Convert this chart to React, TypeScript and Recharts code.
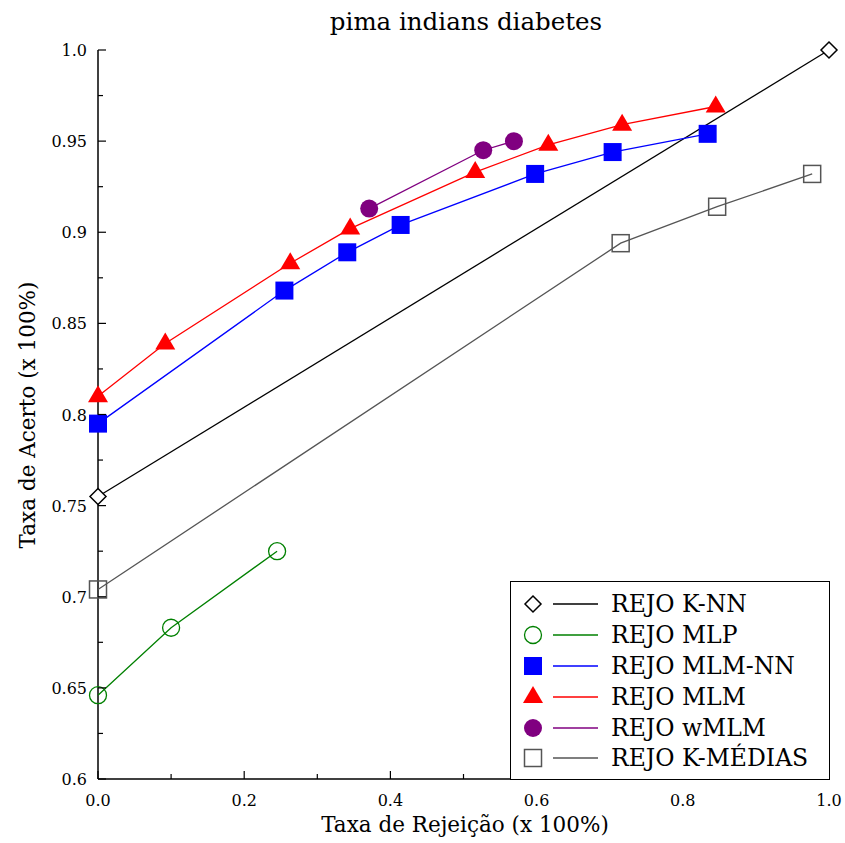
import { ScatterChart, Scatter, XAxis, YAxis } from "recharts";

const knnX = [0, 1];
const knnY = [0.755, 1.0];
const mlpX = [0, 0.1, 0.245];
const mlpY = [0.646, 0.683, 0.725];
const mlmnnX = [0, 0.255, 0.341, 0.414, 0.598, 0.704, 0.834];
const mlmnnY = [0.795, 0.868, 0.889, 0.904, 0.932, 0.944, 0.954];
const mlmX = [0, 0.092, 0.263, 0.345, 0.516, 0.616, 0.717, 0.845];
const mlmY = [0.81, 0.839, 0.883, 0.902, 0.933, 0.948, 0.959, 0.969];
const wmlmX = [0.371, 0.527, 0.569];
const wmlmY = [0.913, 0.945, 0.95];
const kmX = [0, 0.715, 0.847, 0.977];
const kmY = [0.704, 0.894, 0.914, 0.932];

const xTicks = [0, 0.1, 0.2, 0.3, 0.4, 0.5, 0.6, 0.7, 0.8, 0.9, 1];
const xLabels: Record<string, string> = { "0": "0.0", "0.2": "0.2", "0.4": "0.4", "0.6": "0.6", "0.8": "0.8", "1": "1.0" };
const yTicks = [0.6, 0.625, 0.65, 0.675, 0.7, 0.725, 0.75, 0.775, 0.8, 0.825, 0.85, 0.875, 0.9, 0.925, 0.95, 0.975, 1];
const yLabels: Record<string, string> = {
  "0.6": "0.6", "0.65": "0.65", "0.7": "0.7", "0.75": "0.75", "0.8": "0.8",
  "0.85": "0.85", "0.9": "0.9", "0.95": "0.95", "1": "1.0",
};

const FONT = "'DejaVu Serif', serif";

const pts = (xs: number[], ys: number[]) => xs.map((x, i) => ({ x, y: ys[i] }));

const series = [
  { name: "REJO K-NN", data: pts(knnX, knnY), color: "#000000", kind: "diamond" },
  { name: "REJO MLP", data: pts(mlpX, mlpY), color: "#008000", kind: "ocircle" },
  { name: "REJO MLM-NN", data: pts(mlmnnX, mlmnnY), color: "#0000ff", kind: "square" },
  { name: "REJO MLM", data: pts(mlmX, mlmY), color: "#ff0000", kind: "triangle" },
  { name: "REJO wMLM", data: pts(wmlmX, wmlmY), color: "#800080", kind: "circle" },
  { name: "REJO K-MÉDIAS", data: pts(kmX, kmY), color: "#555555", kind: "osquare" },
];

function Marker({ cx, cy, kind, color }: any) {
  if (cx == null || cy == null) return null;
  switch (kind) {
    case "diamond":
      return <path d={`M${cx},${cy - 8} L${cx + 8},${cy} L${cx},${cy + 8} L${cx - 8},${cy} Z`} fill="#fff" stroke={color} strokeWidth={1.5} />;
    case "ocircle":
      return <circle cx={cx} cy={cy} r={8.5} fill="none" stroke={color} strokeWidth={1.3} />;
    case "square":
      return <rect x={cx - 9} y={cy - 9} width={18} height={18} fill={color} />;
    case "osquare":
      return <rect x={cx - 8.5} y={cy - 8.5} width={17} height={17} fill="none" stroke={color} strokeWidth={1.5} />;
    case "triangle":
      return <path d={`M${cx},${cy - 11} L${cx + 10},${cy + 6} L${cx - 10},${cy + 6} Z`} fill={color} />;
    case "circle":
      return <circle cx={cx} cy={cy} r={9} fill={color} />;
  }
  return null;
}

function BottomTick({ x, y, payload }: any) {
  const label = xLabels[String(payload.value)];
  return (
    <g>
      <line x1={x} y1={y} x2={x} y2={y - (label ? 8 : 5)} stroke="#000" strokeWidth={1.2} />
      {label && (
        <text x={x} y={y + 27} textAnchor="middle" fontFamily={FONT} fontSize={16} fill="#000">{label}</text>
      )}
    </g>
  );
}

function TopTick({ x, y, payload }: any) {
  const label = xLabels[String(payload.value)];
  return <line x1={x} y1={y} x2={x} y2={y + (label ? 8 : 5)} stroke="#000" strokeWidth={1.2} />;
}

function LeftTick({ x, y, payload }: any) {
  const label = yLabels[String(payload.value)];
  return (
    <g>
      <line x1={x} y1={y} x2={x + (label ? 8 : 5)} y2={y} stroke="#000" strokeWidth={1.2} />
      {label && (
        <text x={x - 11} y={y + 6} textAnchor="end" fontFamily={FONT} fontSize={16} fill="#000">{label}</text>
      )}
    </g>
  );
}

function RightTick({ x, y, payload }: any) {
  const label = yLabels[String(payload.value)];
  return <line x1={x} y1={y} x2={x - (label ? 8 : 5)} y2={y} stroke="#000" strokeWidth={1.2} />;
}

function LegendBox() {
  return (
    <div
      style={{
        position: "absolute",
        left: 510,
        top: 581,
        width: 320,
        height: 199,
        border: "1.5px solid #000",
        background: "#fff",
        boxSizing: "border-box",
        paddingTop: 7,
      }}
    >
      {series.map((s) => (
        <div key={s.name} style={{ display: "flex", alignItems: "center", height: 30.8 }}>
          <svg width={100} height={30} style={{ flex: "none" }}>
            <Marker cx={22} cy={15} kind={s.kind} color={s.color} />
            <line x1={42} y1={15} x2={87} y2={15} stroke={s.color} strokeWidth={1.3} />
          </svg>
          <span style={{ fontFamily: FONT, fontSize: 23.5, color: "#000", whiteSpace: "nowrap" }}>{s.name}</span>
        </div>
      ))}
    </div>
  );
}

export default function App() {
  return (
    <div style={{ position: "absolute", left: 0, top: 0, width: 845, height: 843, background: "#fff" }}>
      <ScatterChart width={845} height={843} margin={{ top: 50, right: 16, bottom: 34, left: 38 }}>
        <XAxis
          type="number"
          dataKey="x"
          domain={[0, 1]}
          ticks={xTicks}
          interval={0}
          height={30}
          tickSize={0}
          tickMargin={0}
          tickLine={false}
          tick={<BottomTick />}
          axisLine={{ stroke: "#000", strokeWidth: 1.5 }}
        />
        <XAxis
          xAxisId="top"
          orientation="top"
          type="number"
          dataKey="x"
          domain={[0, 1]}
          ticks={xTicks}
          interval={0}
          height={0}
          tickSize={0}
          tickMargin={0}
          tickLine={false}
          tick={<TopTick />}
          axisLine={{ stroke: "#000", strokeWidth: 1.5 }}
        />
        <YAxis
          type="number"
          dataKey="y"
          domain={[0.6, 1]}
          ticks={yTicks}
          interval={0}
          width={60}
          tickSize={0}
          tickMargin={0}
          tickLine={false}
          tick={<LeftTick />}
          axisLine={{ stroke: "#000", strokeWidth: 1.5 }}
        />
        <YAxis
          yAxisId="right"
          orientation="right"
          type="number"
          dataKey="y"
          domain={[0.6, 1]}
          ticks={yTicks}
          interval={0}
          width={0}
          tickSize={0}
          tickMargin={0}
          tickLine={false}
          tick={<RightTick />}
          axisLine={{ stroke: "#000", strokeWidth: 1.5 }}
        />
        {series.map((s) => (
          <Scatter
            key={s.name}
            name={s.name}
            data={s.data}
            fill={s.color}
            line={{ stroke: s.color, strokeWidth: 1.3 }}
            lineType="joint"
            isAnimationActive={false}
            shape={(p: any) => <Marker cx={p.cx} cy={p.cy} kind={s.kind} color={s.color} />}
          />
        ))}
      </ScatterChart>
      <LegendBox />
      <div style={{ position: "absolute", left: 0, top: 7, width: 932, textAlign: "center", fontFamily: FONT, fontSize: 24.5 }}>
        pima indians diabetes
      </div>
      <div style={{ position: "absolute", left: 0, top: 812, width: 930, textAlign: "center", fontFamily: FONT, fontSize: 21.5 }}>
        Taxa de Rejeição (x 100%)
      </div>
      <div
        style={{
          position: "absolute",
          left: 27,
          top: 415,
          transform: "translate(-50%, -50%) rotate(-90deg)",
          whiteSpace: "nowrap",
          fontFamily: FONT,
          fontSize: 21.5,
        }}
      >
        Taxa de Acerto (x 100%)
      </div>
    </div>
  );
}
